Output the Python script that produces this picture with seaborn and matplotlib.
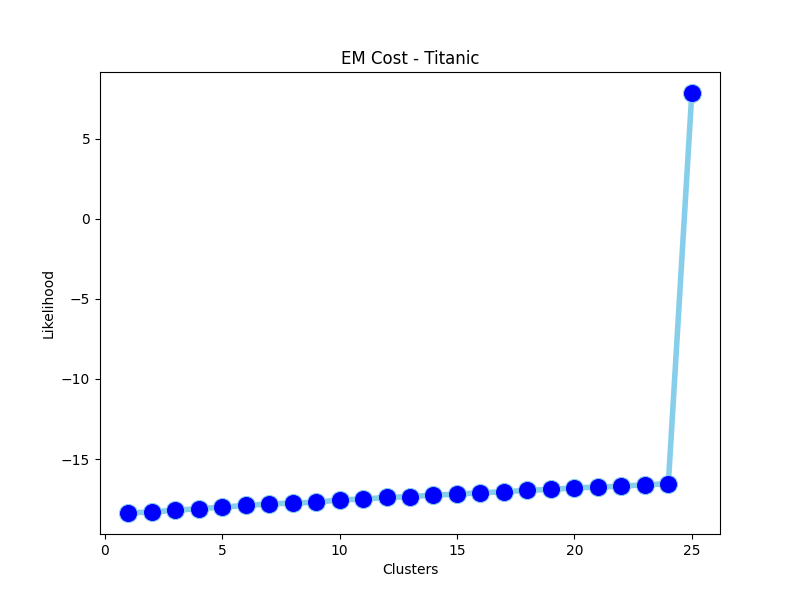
import matplotlib
matplotlib.use("Agg")
import matplotlib.pyplot as plt
import seaborn as sns

clusters = list(range(1, 26))
likelihood = [-18.37, -18.3, -18.2, -18.1, -18.0, -17.9, -17.8, -17.75, -17.7, -17.55,
              -17.5, -17.4, -17.35, -17.25, -17.2, -17.1, -17.05, -16.95, -16.9, -16.8,
              -16.75, -16.7, -16.6, -16.55, 7.85]

fig, ax = plt.subplots(figsize=(8, 6), dpi=100)
sns.lineplot(x=clusters, y=likelihood, ax=ax, color='skyblue', linewidth=4,
             marker='o', markersize=13, markerfacecolor='blue', markeredgecolor='skyblue')
ax.set_title("EM Cost - Titanic")
ax.set_xlabel("Clusters")
ax.set_ylabel("Likelihood")
fig.savefig("out.png")
